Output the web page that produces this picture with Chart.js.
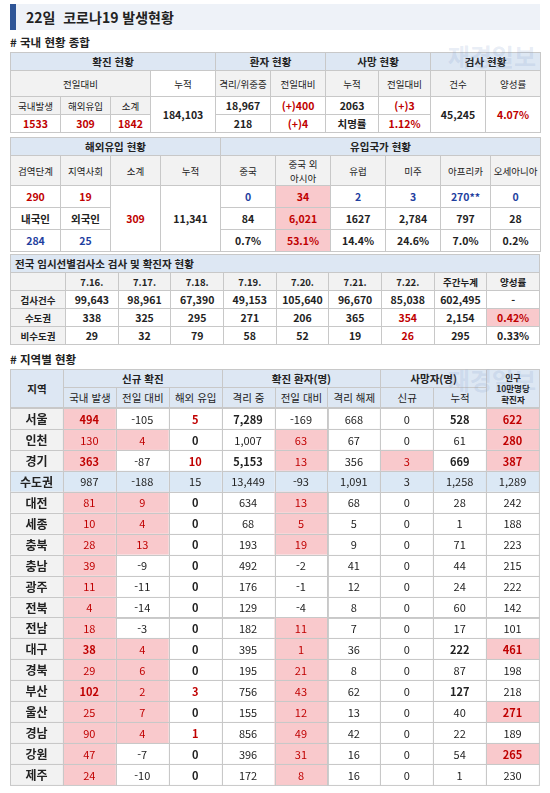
<!DOCTYPE html>
<html lang="ko">
<head>
<meta charset="utf-8">
<script src="https://cdn.jsdelivr.net/npm/chart.js@4/dist/chart.umd.min.js"></script>
<style>
  body { margin: 0; background: #fff; font-family: "Noto Sans CJK KR", "Noto Sans", sans-serif; color: #222; }
  #page { width: 530px; padding: 0 10px; position: relative; }
  .title { height: 26px; margin-top: 4px; border-left: 6px solid #2e5597; background: #eef2f8; font-size: 14px; font-weight: bold; line-height: 26px; padding-left: 10px; }
  .sec { font-size: 11.5px; font-weight: bold; margin: 4px 0 2px; }
  table { border-collapse: collapse; width: 530px; table-layout: fixed; font-size: 10.5px; text-align: center; }
  td { border: 1px solid #c8c8c8; padding: 0; height: 17px; }
  .h { background: #dde7f3; font-weight: bold; }
  .s { background: #f2f2f2; font-size: 9.5px; }
  .r { color: #c00000; font-weight: bold; }
  .b { color: #1f3f9f; font-weight: bold; }
  .p { background: #f9c9cc; }
  .k { font-weight: bold; }
  .wm { position: absolute; color: rgba(120,150,200,0.18); font-size: 24px; font-weight: bold; }
  #regWrap { position: relative; width: 530px; height: 378px; }
</style>
</head>
<body>
<div id="page">
  <div class="title">22일 &nbsp;코로나19 발생현황</div>
  <div class="sec"># 국내 현황 종합</div>
  <div class="wm" style="right:14px;top:34px">재경일보</div>
  <table>
    <col style="width:50px"><col style="width:50px"><col style="width:40px"><col style="width:65px"><col style="width:55px"><col style="width:55px"><col style="width:53px"><col style="width:52px"><col style="width:55px"><col style="width:55px">
    <tr class="h"><td colspan="4">확진 현황</td><td colspan="2">환자 현황</td><td colspan="2">사망 현황</td><td colspan="2">검사 현황</td></tr>
    <tr class="s" style="height:26px"><td colspan="3">전일대비</td><td style="background:#fff">누적</td><td>격리/위중증</td><td>전일대비</td><td>누적</td><td>전일대비</td><td>건수</td><td>양성률</td></tr>
    <tr><td class="s">국내발생</td><td class="s">해외유입</td><td class="s">소계</td><td rowspan="2" class="k">184,103</td><td class="k">18,967</td><td class="r">(+)400</td><td class="k">2063</td><td class="r">(+)3</td><td rowspan="2" class="k">45,245</td><td rowspan="2" class="r">4.07%</td></tr>
    <tr><td class="r">1533</td><td class="r">309</td><td class="r">1842</td><td class="k">218</td><td class="r">(+)4</td><td class="k">치명률</td><td class="r">1.12%</td></tr>
  </table>
  <div style="height:4px"></div>
  <table>
    <col style="width:50px"><col style="width:50px"><col style="width:50px"><col style="width:60px"><col style="width:55px"><col style="width:55px"><col style="width:55px"><col style="width:55px"><col style="width:50px"><col style="width:50px">
    <tr class="h"><td colspan="4">해외유입 현황</td><td colspan="6">유입국가 현황</td></tr>
    <tr class="s" style="height:30px"><td>검역단계</td><td>지역사회</td><td>소계</td><td>누적</td><td>중국</td><td>중국 외<br>아시아</td><td>유럽</td><td>미주</td><td>아프리카</td><td>오세아니아</td></tr>
    <tr style="height:22px"><td class="r">290</td><td class="r">19</td><td rowspan="3" class="r">309</td><td rowspan="3" class="k">11,341</td><td class="b">0</td><td class="r p">34</td><td class="b">2</td><td class="b">3</td><td class="b">270**</td><td class="b">0</td></tr>
    <tr style="height:22px"><td class="k">내국인</td><td class="k">외국인</td><td class="k">84</td><td class="r p">6,021</td><td class="k">1627</td><td class="k">2,784</td><td class="k">797</td><td class="k">28</td></tr>
    <tr style="height:22px"><td class="b">284</td><td class="b">25</td><td class="k">0.7%</td><td class="r p">53.1%</td><td class="k">14.4%</td><td class="k">24.6%</td><td class="k">7.0%</td><td class="k">0.2%</td></tr>
  </table>
  <div style="height:2px"></div>
  <table id="screen">
    <col style="width:55px"><col span="9">
  </table>
  <div class="sec" style="margin-top:6px"># 지역별 현황</div>
  <div class="wm" style="right:14px;top:358px">재경일보</div>
  <table>
    <col style="width:53px"><col span="9">
    <tr class="h"><td rowspan="2">지역</td><td colspan="3">신규 확진</td><td colspan="3">확진 환자(명)</td><td colspan="2">사망자(명)</td><td rowspan="2" style="font-size:8.5px;line-height:11px">인구<br>10만명당<br>확진자</td></tr>
    <tr class="h" style="font-weight:normal;height:20px"><td>국내 발생</td><td>전일 대비</td><td>해외 유입</td><td>격리 중</td><td>전일 대비</td><td>격리 해제</td><td>신규</td><td>누적</td></tr>
  </table>
  <div id="regWrap"><canvas id="regionChart"></canvas></div>
</div>
<script>
// 임시선별검사소
const screenDates = ["7.16.", "7.17.", "7.18.", "7.19.", "7.20.", "7.21.", "7.22.", "주간누계", "양성률"];
const screenTests = ["99,643", "98,961", "67,390", "49,153", "105,640", "96,670", "85,038", "602,495", "-"];
const screenCapital = ["338", "325", "295", "271", "206", "365", "354", "2,154", "0.42%"];
const screenOther = ["29", "32", "79", "58", "52", "19", "26", "295", "0.33%"];

// 지역별 현황
const regions = ["서울", "인천", "경기", "수도권", "대전", "세종", "충북", "충남", "광주", "전북", "전남", "대구", "경북", "부산", "울산", "경남", "강원", "제주"];
const domestic = [494, 130, 363, 987, 81, 10, 28, 39, 11, 4, 18, 38, 29, 102, 25, 90, 47, 24];
const dayDiff = [-105, 4, -87, -188, 9, 4, 13, -9, -11, -14, -3, 4, 6, 2, 7, 4, -7, -10];
const overseas = [5, 0, 10, 15, 0, 0, 0, 0, 0, 0, 0, 0, 0, 3, 0, 1, 0, 0];
const isolating = [7289, 1007, 5153, 13449, 634, 68, 193, 492, 176, 129, 182, 395, 195, 756, 155, 856, 396, 172];
const isoDiff = [-169, 63, 13, -93, 13, 5, 19, -2, -1, -4, 11, 1, 21, 43, 12, 49, 31, 8];
const released = [668, 67, 356, 1091, 68, 5, 9, 41, 12, 8, 7, 36, 8, 62, 13, 42, 16, 16];
const newDeaths = [0, 0, 3, 3, 0, 0, 0, 0, 0, 0, 0, 0, 0, 0, 0, 0, 0, 0];
const deaths = [528, 61, 669, 1258, 28, 1, 71, 44, 24, 60, 17, 222, 87, 127, 40, 22, 54, 1];
const per100k = [622, 280, 387, 1289, 242, 188, 223, 215, 222, 142, 101, 461, 198, 218, 271, 189, 265, 230];
const per100kHigh = ["서울", "인천", "경기", "대구", "울산", "강원"];
const boldRegions = ["서울", "경기", "대구", "부산"];

// screening table
const st = document.getElementById("screen");
function addRow(cells, cls) {
  const tr = document.createElement("tr");
  cells.forEach((c, i) => {
    const td = document.createElement("td");
    td.textContent = c;
    if (cls) td.className = cls(i, c);
    tr.appendChild(td);
  });
  st.appendChild(tr);
}
st.insertAdjacentHTML("beforeend", '<tr class="h" style="text-align:left"><td colspan="10" style="padding-left:4px">전국 임시선별검사소 검사 및 확진자 현황</td></tr>');
addRow([""].concat(screenDates), () => "s k");
addRow(["검사건수"].concat(screenTests), (i) => i === 0 ? "s k" : "k");
addRow(["수도권"].concat(screenCapital), (i) => i === 0 ? "s k" : i === 7 ? "r" : i === 9 ? "r p" : "k");
addRow(["비수도권"].concat(screenOther), (i) => i === 0 ? "s k" : i === 7 ? "r" : "k");

const fmt = (v) => v.toLocaleString("en-US");
const RED = "#c00000", PINK = "#f9c9cc", BLUE = "#dbe8f5";

function cellsFor(i) {
  const cap = regions[i] === "수도권";
  const bold = boldRegions.includes(regions[i]);
  return [
    { t: regions[i], bg: cap ? BLUE : "#f2f2f2", bold: true },
    { t: fmt(domestic[i]), bg: cap ? BLUE : PINK, c: cap ? "#222" : RED, bold: !cap && bold },
    { t: fmt(dayDiff[i]), bg: cap ? BLUE : dayDiff[i] > 0 ? PINK : null, c: dayDiff[i] > 0 && !cap ? RED : "#222" },
    { t: fmt(overseas[i]), bg: cap ? BLUE : null, c: overseas[i] > 0 && !cap ? RED : "#222", bold: !cap },
    { t: fmt(isolating[i]), bg: cap ? BLUE : null, bold: !cap && (regions[i] === "서울" || regions[i] === "경기") },
    { t: fmt(isoDiff[i]), bg: cap ? BLUE : isoDiff[i] > 0 ? PINK : null, c: isoDiff[i] > 0 && !cap ? RED : "#222" },
    { t: fmt(released[i]), bg: cap ? BLUE : null },
    { t: fmt(newDeaths[i]), bg: cap ? BLUE : newDeaths[i] > 0 ? PINK : null, c: newDeaths[i] > 0 && !cap ? RED : "#222" },
    { t: fmt(deaths[i]), bg: cap ? BLUE : null, bold: !cap && bold },
    { t: fmt(per100k[i]), bg: cap ? BLUE : per100kHigh.includes(regions[i]) ? PINK : null, c: per100kHigh.includes(regions[i]) ? RED : "#222", bold: per100kHigh.includes(regions[i]) }
  ];
}

const tablePlugin = {
  id: "regionTable",
  afterDraw(chart) {
    const { ctx } = chart;
    const x = chart.scales.x, y = chart.scales.y;
    const cw = x.getPixelForValue(1) - x.getPixelForValue(0);
    const rh = y.getPixelForValue(1) - y.getPixelForValue(0);
    ctx.save();
    ctx.textAlign = "center";
    ctx.textBaseline = "middle";
    regions.forEach((r, i) => {
      const cy = y.getPixelForValue(i);
      cellsFor(i).forEach((cell, j) => {
        const cx = x.getPixelForValue(j);
        const l = cx - cw / 2, t = cy - rh / 2;
        if (cell.bg) { ctx.fillStyle = cell.bg; ctx.fillRect(l, t, cw, rh); }
        ctx.strokeStyle = "#c8c8c8";
        ctx.lineWidth = 1;
        ctx.strokeRect(Math.round(l) + 0.5, Math.round(t) + 0.5, cw, rh);
        ctx.fillStyle = cell.c || "#222";
        ctx.font = (cell.bold ? "bold " : "") + (j === 0 ? "12px" : "11px") + ' "Noto Sans CJK KR", sans-serif';
        ctx.fillText(cell.t, cx, cy + 1);
      });
    });
    ctx.restore();
  }
};

new Chart(document.getElementById("regionChart"), {
  type: "scatter",
  data: { datasets: [] },
  options: {
    responsive: true,
    maintainAspectRatio: false,
    animation: false,
    layout: { padding: { right: 1, bottom: 1 } },
    plugins: { legend: { display: false }, tooltip: { enabled: false } },
    scales: {
      x: { type: "category", labels: ["지역", "국내 발생", "전일 대비", "해외 유입", "격리 중", "전일 대비", "격리 해제", "신규", "누적", "인구"], offset: true, display: false },
      y: { type: "category", labels: regions, offset: true, display: false }
    }
  },
  plugins: [tablePlugin]
});
</script>
</body>
</html>
